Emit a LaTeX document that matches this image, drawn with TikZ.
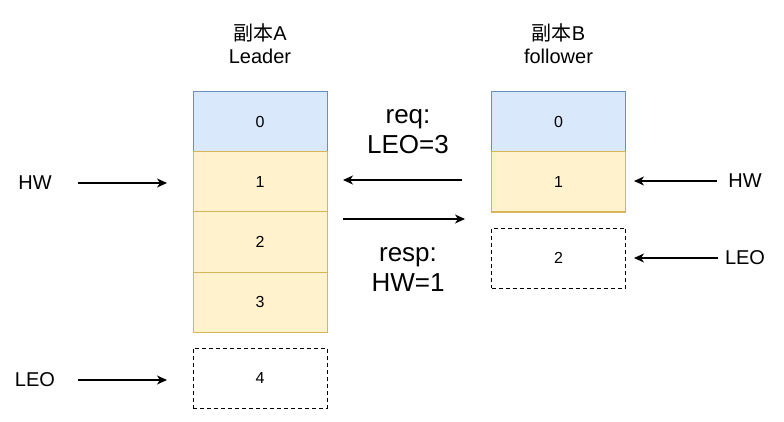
\documentclass[tikz,border=0pt]{standalone}
\usepackage{fontspec}
\setmainfont{Liberation Sans}
\newfontfamily\cjk{Noto Sans CJK SC}
\usepackage{xcolor}
\usepackage{tikz}
\usetikzlibrary{arrows.meta,positioning}

\definecolor{oldfill}{HTML}{DAE8FC}
\definecolor{olddraw}{HTML}{6C8EBF}
\definecolor{logfill}{HTML}{FFF2CC}
\definecolor{logdraw}{HTML}{D6B656}

\begin{document}
\begin{tikzpicture}
          [x=1pt,y=-1pt,>={Stealth[length=10pt,width=9pt,inset=3pt]},line width=1.1pt]
          \tikzstyle{blk}=[minimum width=134pt,minimum height=60pt,inner sep=0pt,outer sep=0pt,line width=1pt,font=\fontsize{16}{19}\selectfont]
          \tikzstyle{oldblk}=[blk,draw=olddraw,fill=oldfill]
          \tikzstyle{logblk}=[blk,draw=logdraw,fill=logfill]
          \tikzstyle{nextblk}=[blk,draw=black,dash pattern=on 4pt off 3pt]
          \tikzstyle{lbl}=[font=\fontsize{20}{24}\selectfont]
          \tikzstyle{msg}=[align=center,font=\fontsize{26}{30}\selectfont]
          \tikzstyle{head}=[align=center,font=\fontsize{20}{23}\selectfont]

          \useasboundingbox (0,0) rectangle (784,422);

          % replica A
          \node[head] (ha) at (260,44) {{\cjk 副本}A\\Leader};
          \node[oldblk] (a0) at (260,122) {0};
          \node[logblk] (a1) [below=0pt of a0] {1};
          \node[logblk] (a2) [below=0pt of a1] {2};
          \node[logblk] (a3) [below=0pt of a2] {3};
          \node[nextblk] (a4) [below=16pt of a3] {4};

          % replica B
          \node[head] (hb) at (558.5,44) {{\cjk 副本}B\\follower};
          \node[oldblk] (b0) at (558.5,122) {0};
          \node[logblk] (b1) [below=0pt of b0] {1};
          \node[nextblk] (b2) [below=16pt of b1] {2};

          \node[lbl] (hwa) at (35,183) {HW};
          \node[lbl] (leoa) at (35,380) {LEO};
          \node[lbl] (hwb) at (745,181) {HW};
          \node[lbl] (leob) at (745,258) {LEO};

          \node[msg] (req) at (408,132) {req:\\LEO=3};
          \node[msg] (resp) at (408,270) {resp:\\HW=1};

          \path[->]
          (hwa) edge[shorten <=22pt,shorten >=26pt] (hwa -| a1.west)
          (leoa) edge[shorten <=19pt,shorten >=26pt] (leoa -| a4.west)
          (hwb) edge[shorten <=7pt,shorten >=8.5pt] (hwb -| b1.east)
          (leob) edge[shorten <=3pt,shorten >=8.5pt] (leob -| b2.east)
          ([yshift=2pt]b1.west) edge[shorten <=29.5pt,shorten >=16pt] ([yshift=2pt]a1.east)
          ([yshift=-7pt]a1.south east) edge[shorten <=16pt,shorten >=26.5pt] ([yshift=-7pt]b1.south west)
          ;
        \end{tikzpicture}
\end{document}
